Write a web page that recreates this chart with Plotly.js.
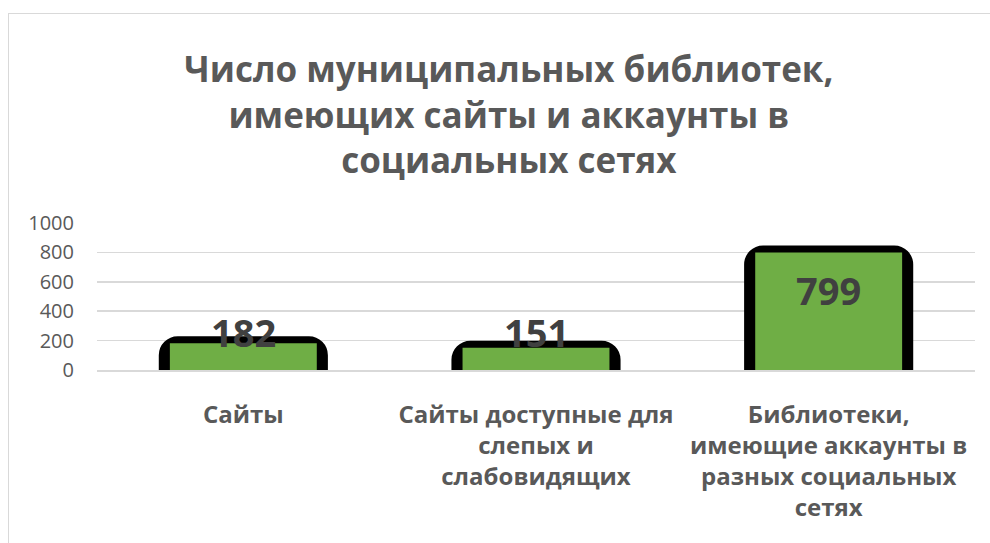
<!DOCTYPE html>
<html>
<head>
<meta charset="utf-8">
<script src="https://cdn.plot.ly/plotly-3.0.1.min.js"></script>
<style>
  html, body { margin: 0; padding: 0; background: #ffffff; overflow: hidden; }
  #chart { width: 990px; height: 543px; }
  #frame { position: absolute; left: 8px; top: 13px; width: 2000px; height: 2000px;
           border-left: 1px solid #d9d9d9; border-top: 1px solid #d9d9d9; pointer-events: none; }
</style>
</head>
<body>
<div id="chart"></div>
<div id="frame"></div>
<script>
const titleText = "Число муниципальных библиотек,<br>имеющих сайты и аккаунты в<br>социальных сетях";
const categories = [
  "Сайты",
  "Сайты доступные для<br>слепых и<br>слабовидящих",
  "Библиотеки,<br>имеющие аккаунты в<br>разных социальных<br>сетях"
];
const values = [182, 151, 799];
const yTicks = [0, 200, 400, 600, 800, 1000];

const marginT = 223, marginB = 173, H = 543;
const plotH = H - marginT - marginB;
const pxPerUnit = plotH / 1000;

// black rounded frame of each bar
const outlineTrace = {
  type: 'bar',
  x: categories,
  y: values,
  width: 0.53,
  marker: {
    color: '#000000',
    line: { color: '#000000', width: 14 },
    cornerradius: 12
  },
  hoverinfo: 'skip'
};

// green fill of each bar
const fillTrace = {
  type: 'bar',
  x: categories,
  y: values,
  width: 0.502,
  marker: {
    color: '#6fae45',
    line: { width: 0 }
  },
  hoverinfo: 'skip'
};

const annotations = values.map((v, i) => ({
  x: categories[i],
  y: v,
  xref: 'x', yref: 'y',
  text: String(v),
  showarrow: false,
  yanchor: 'middle',
  yshift: Math.max(-37, 38 - v * pxPerUnit),
  font: { family: 'Open Sans', size: 38, color: '#404040', weight: 700 }
}));

const layout = {
  width: 990, height: 543,
  margin: { l: 97, r: 15, t: marginT, b: marginB },
  paper_bgcolor: '#ffffff',
  plot_bgcolor: '#ffffff',
  showlegend: false,
  barmode: 'overlay',
  title: {
    text: titleText,
    font: { family: 'Open Sans', size: 35, color: '#595959', weight: 700 },
    xref: 'container', x: 0.514, xanchor: 'center',
    yref: 'container', y: 1 - 82 / 543, yanchor: 'middle'
  },
  xaxis: {
    type: 'category',
    showgrid: false,
    showline: true,
    linecolor: '#d9d9d9',
    linewidth: 2,
    layer: 'above traces',
    zeroline: false,
    ticks: '',
    tickfont: { family: 'Open Sans', size: 24, color: '#595959', weight: 700 },
    ticklabelstandoff: 22,
    fixedrange: true
  },
  yaxis: {
    range: [0, 1000],
    tickvals: yTicks,
    ticktext: yTicks.map(String),
    showgrid: true,
    gridcolor: '#d9d9d9',
    gridwidth: 1.5,
    zeroline: false,
    showline: false,
    ticks: '',
    tickfont: { family: 'Open Sans', size: 20, color: '#595959' },
    ticklabelstandoff: 22,
    fixedrange: true
  },
  annotations: annotations
};

Plotly.newPlot('chart', [outlineTrace, fillTrace], layout, { displayModeBar: false, staticPlot: true });
</script>
</body>
</html>
